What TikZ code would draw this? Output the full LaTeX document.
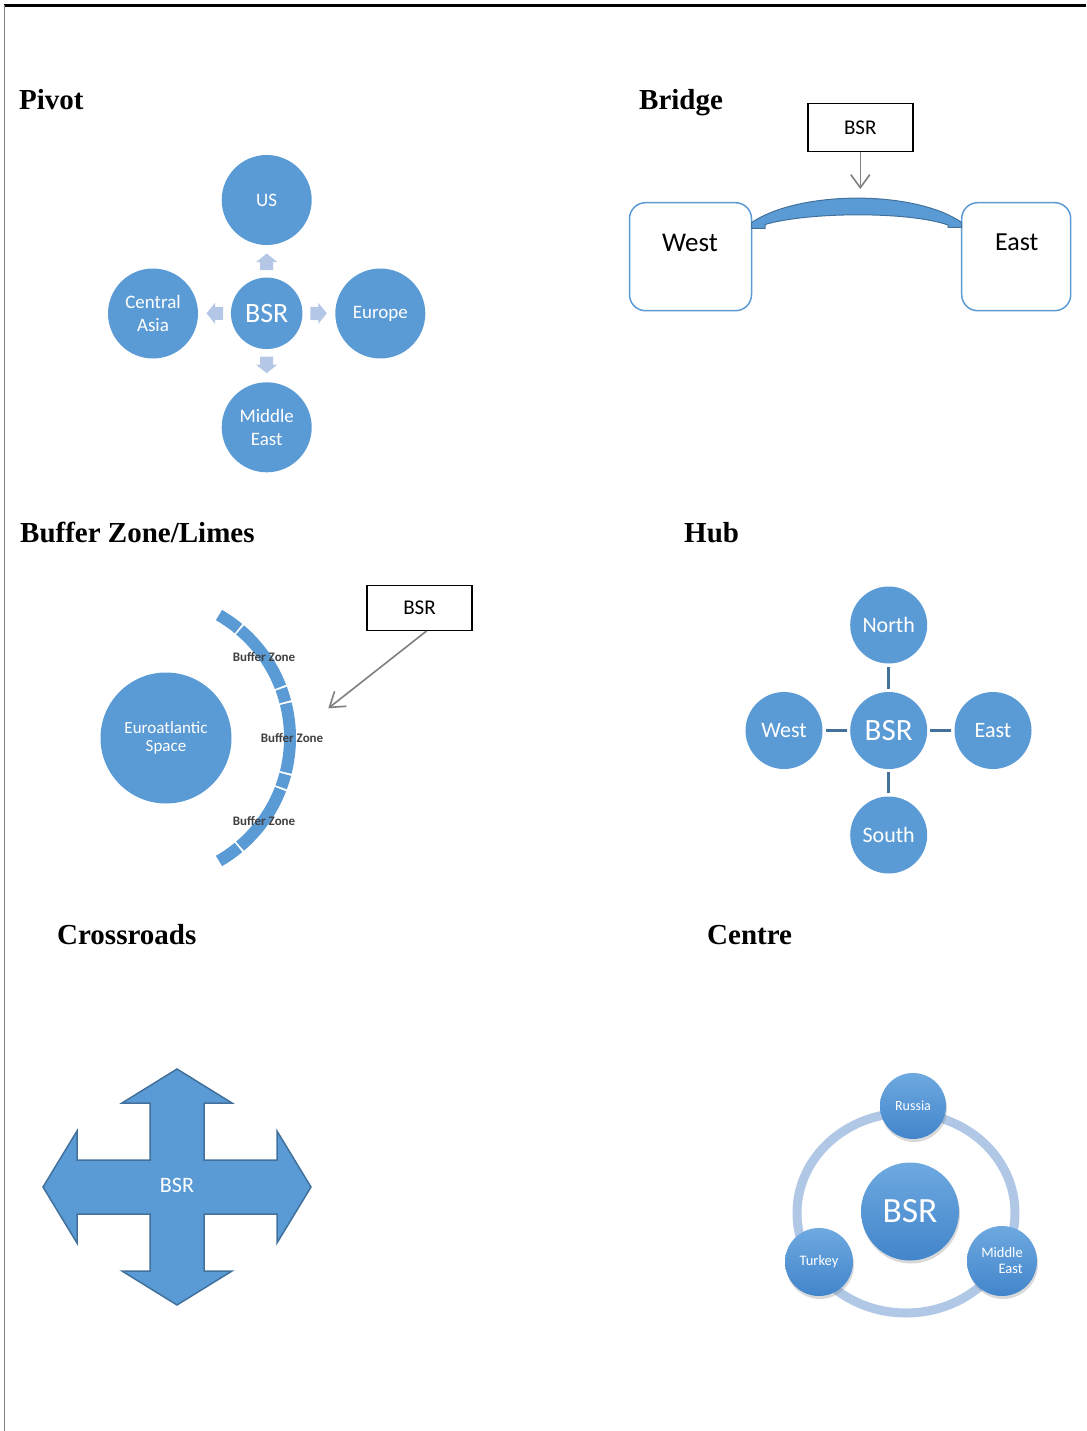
\documentclass[tikz,border=0pt]{standalone}
\usepackage{fontspec}
\setmainfont{Liberation Serif}
\setsansfont{Carlito}
\usetikzlibrary{arrows.meta,shadows}

\definecolor{bsrblue}{HTML}{5B9BD5}
\definecolor{bsredge}{HTML}{41719C}
\definecolor{paleblue}{HTML}{B4C7E7}
\definecolor{ringblue}{HTML}{B0C7E6}
\definecolor{orbtop}{HTML}{6EA9E0}
\definecolor{orbbottom}{HTML}{4285CB}
\definecolor{pointergray}{HTML}{7F7F7F}

\begin{document}
\begin{tikzpicture}[x=1pt, y=-1pt,
	title/.style={anchor=base west, inner sep=0pt, font=\bfseries\fontsize{29}{34}\selectfont},
	ball/.style={circle, fill=bsrblue, text=white, inner sep=0pt, align=center, font=\sffamily\fontsize{19}{22.7}\selectfont},
	pivarrow/.style={fill=paleblue},
	plainbox/.style={draw, line width=1.5pt, minimum width=105pt, minimum height=48pt, font=\sffamily\fontsize{21}{25}\selectfont},
	bank/.style={draw=bsrblue, line width=1.5pt, rounded corners=16pt, minimum height=108pt},
	pointer/.style={draw=pointergray, line width=1.6pt, -{Straight Barb[length=13pt, width=19pt]}},
	band/.style={bsrblue, line width=12pt},
	bztext/.style={text=black!75, inner sep=0pt, font=\sffamily\bfseries\fontsize{13}{14}\selectfont},
	hublink/.style={bsredge, line width=3pt, shorten <=3pt, shorten >=3pt},
	orb/.style={circle, top color=orbtop, bottom color=orbbottom, text=white, inner sep=0pt, align=center,
		drop shadow={opacity=0.3, shadow xshift=1pt, shadow yshift=-3pt}, font=\sffamily\fontsize{14.5}{16}\selectfont}]

	\useasboundingbox (0,0) rectangle (1086,1431);
	\draw[line width=2.5pt] (4,5.3) -- (1086,5.3);
	\draw[gray, line width=1pt] (4.3,5) -- (4.3,1431);

	% titles
	\node[title] (tpivot) at (19,109.5) {Pivot};
	\node[title] (tbridge) at (639,109.5) {Bridge};
	\node[title] (tbuffer) at (20,542.5) {Buffer Zone/Limes};
	\node[title] (thub) at (684,542.5) {Hub};
	\node[title] (tcross) at (57,944) {Crossroads};
	\node[title] (tcentre) at (707,944) {Centre};

	% pivot
	\node[ball, minimum size=90pt] (pus) at (266.7,200) {US};
	\node[ball, minimum size=71.5pt, font=\sffamily\fontsize{28}{30}\selectfont] (pbsr) at (266.7,313.3) {BSR};
	\node[ball, minimum size=90pt] (pasia) at (153,313.5) {Central\\Asia};
	\node[ball, minimum size=90pt] (peurope) at (380.3,313.5) {Europe};
	\node[ball, minimum size=90pt] (pmideast) at (266.7,427.3) {Middle\\East};
	\foreach \px/\py/\rot in {266.7/262/90, 266.7/364.7/-90, 215/313.3/180, 318.3/313.3/0}
		\fill[pivarrow, shift={(\px,\py)}, rotate=\rot] (-8,-6.5) -- (0,-6.5) -- (0,-10.5) -- (8.5,0)
			-- (0,10.5) -- (0,6.5) -- (-8,6.5) -- cycle;

	% bridge
	\node[plainbox] (bbsr) at (860.3,127.3) {BSR};
	\coordinate (btip) at (860.3,189);
	\draw[pointer] (bbsr) -- (btip);
	\node[bank, minimum width=122pt] (bwest) at (690.5,256.7) {};
	\node[bank, minimum width=109pt] (beast) at (1016.2,256.7) {};
	\node[font=\sffamily\fontsize{27}{30}\selectfont] (bwesttxt) at (690,243.3) {West};
	\node[font=\sffamily\fontsize{26}{30}\selectfont] (beasttxt) at (1016.7,242.7) {East};
	\draw[fill=bsrblue, draw=bsredge, line width=1pt] (751.7,222.5) .. controls (800,190) and (915,190) .. (961.7,222.5)
		-- (961.7,227.5) -- (948,227.5) -- (948,225) .. controls (910,211.5) and (810,211.5) .. (765,224.5)
		-- (765,228.5) -- (751.7,228.5) -- cycle;

	% buffer zone
	\node[ball, minimum size=131pt, font=\sffamily\fontsize{17}{18.3}\selectfont] (euro) at (166,738) {Euroatlantic\\Space};
	\foreach \a/\b in {60/50.4, 49.6/21.1, 20.3/14.8, 14/-14, -14.8/-20.3, -21.1/-49.6, -50.4/-60}
		\draw[band] (148,738) ++(\a:142) arc[start angle=\a, end angle=\b, radius=142];
	\node[bztext] (bz1) at (264,657) {Buffer Zone};
	\node[bztext] (bz2) at (292,738) {Buffer Zone};
	\node[bztext] (bz3) at (264,821) {Buffer Zone};
	\node[plainbox, minimum height=45pt] (zbsr) at (419.5,607.8) {BSR};
	\coordinate (ztip) at (328.3,708.3);
	\draw[pointer, -{Straight Barb[length=14pt, width=19pt]}] ([xshift=7pt]zbsr.south) -- (ztip);

	% hub
	\node[ball, minimum size=77pt, font=\sffamily\fontsize{22}{24}\selectfont] (hnorth) at (888.7,625) {North};
	\node[ball, minimum size=77pt, font=\sffamily\fontsize{31}{33}\selectfont] (hbsr) at (888.7,730.5) {BSR};
	\node[ball, minimum size=77pt, font=\sffamily\fontsize{22}{24}\selectfont] (hwest) at (784,730.5) {West};
	\node[ball, minimum size=77pt, font=\sffamily\fontsize{22}{24}\selectfont] (heast) at (993,730.5) {East};
	\node[ball, minimum size=77pt, font=\sffamily\fontsize{22}{24}\selectfont] (hsouth) at (888.7,835) {South};
	\draw[hublink] (hnorth) -- (hbsr);
	\draw[hublink] (hwest) -- (hbsr);
	\draw[hublink] (heast) -- (hbsr);
	\draw[hublink] (hsouth) -- (hbsr);

	% crossroads
	\draw[fill=bsrblue, draw=bsredge, line width=1.5pt, line join=miter] (177,1069) -- (232,1103) -- (204,1103) -- (204,1160)
		-- (277,1160) -- (277,1131) -- (311,1187) -- (277,1243) -- (277,1214) -- (204,1214) -- (204,1271)
		-- (232,1271) -- (177,1305) -- (122,1271) -- (150,1271) -- (150,1214) -- (77,1214) -- (77,1243)
		-- (43,1187) -- (77,1131) -- (77,1160) -- (150,1160) -- (150,1103) -- (122,1103) -- cycle;
	\node[text=white, font=\sffamily\fontsize{22}{24}\selectfont] (cbsr) at (177,1185) {BSR};

	% centre
	\draw[ringblue, line width=9pt] (906,1213) ellipse[x radius=109, y radius=100];
	\node[orb, minimum size=98pt, font=\sffamily\fontsize{35.5}{38}\selectfont] (obsr) at (910,1211.5) {BSR};
	\node[orb, minimum size=66pt, font=\sffamily\fontsize{14}{16}\selectfont] (orussia) at (913,1106) {Russia};
	\node[orb, minimum size=68pt] (oturkey) at (819,1262) {Turkey};
	\node[orb, minimum size=70pt, align=right] (omideast) at (1002,1261) {Middle\\East};
\end{tikzpicture}
\end{document}
